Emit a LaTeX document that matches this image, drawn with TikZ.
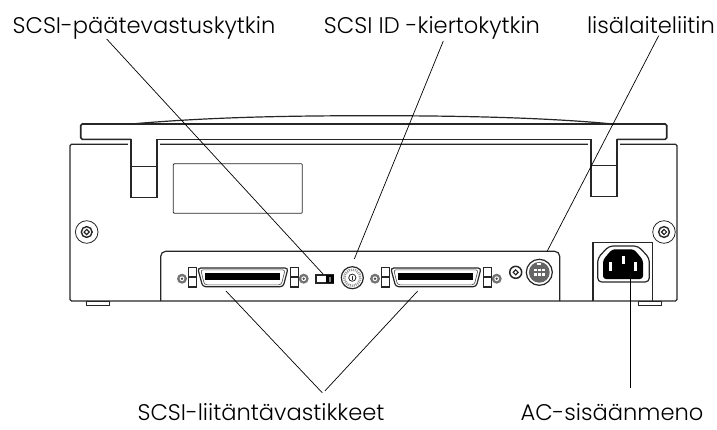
\documentclass[tikz,border=0pt]{standalone}
\usepackage{fontspec}
\setmainfont{Poppins Light}
\tikzset{
    outline/.style={line width=1.2pt,black!85},
    fine/.style={line width=0.8pt,black!85},
    leader/.style={line width=0.7pt,black},
    lbl/.style={inner sep=0pt,anchor=base,font=\fontsize{22.6}{26}\selectfont},
}
\begin{document}
\begin{tikzpicture}[x=1pt,y=-1pt]
    \useasboundingbox (0,0) rectangle (717,429);
    % feet
    \draw[fine] (86.3,301) rectangle (109.7,305);
    \draw[fine] (638.3,301) rectangle (661.7,305);
    % body and lid
    \draw[outline,rounded corners=1.5pt] (70,301) -- (70,144.3) -- (677,144.3) -- (677,301) -- cycle;
    \fill[white] (128,142) rectangle (160,150);
    \fill[white] (588,142) rectangle (620,150);
    \draw[line width=1.6pt,black!85,rounded corners=1.5pt] (131,124) -- (80.7,124) -- (80.7,139.3) -- (131,139.3);
    \draw[line width=1.6pt,black!85,rounded corners=1.5pt] (617,139.3) -- (666.7,139.3) -- (666.7,124) -- (613,124);
    \draw[outline] (131,124) -- (613,124);
    \draw[line width=1.6pt,black!85] (157,139.3) -- (591,139.3);
    \draw[outline] (131,124) .. controls (200,118) and (270,115.7) .. (372,115.7) .. controls (470,115.7) and (550,118) .. (613,124);
    % hinges
    \draw[outline] (131,139.3) -- (131,197.7) -- (157,197.7) -- (157,139.3);
    \draw[outline] (591,139.3) -- (591,196.7) -- (617,196.7) -- (617,139.3);
    \draw[fine] (131,166) -- (157,166);
    \draw[fine] (591,165) -- (617,165);
    % plate
    \draw[fine,rounded corners=1pt] (173.3,163.7) rectangle (302.3,213.3);
    % rear panel
    \draw[outline,rounded corners=5pt] (160.7,301) -- (160.7,251.3) -- (559.7,251.3) -- (559.7,301);
    % outer screws
    \foreach \sx in {86.7,664} {
        \draw[fine] (\sx,232) circle (11.3);
        \draw[line width=1.4pt,black!85] (\sx,232) circle (5.4);
        \draw[line width=1.2pt,black!85] (\sx-2.6,232) -- (\sx,229.4) -- (\sx+2.6,232) -- (\sx,234.6) -- cycle;
    }
    % scsi connectors
    \foreach \cx in {197.7,390.7} {
        \draw[outline,rounded corners=3pt] (\cx,268) -- (\cx+90.4,268) -- (\cx+85.5,286.7) -- (\cx+5,286.7) -- cycle;
        \draw[line width=0.6pt,black!70,rounded corners=2.5pt] (\cx+3,269.8) -- (\cx+87.4,269.8) -- (\cx+83.6,284.8) -- (\cx+6.8,284.8) -- cycle;
        \fill[black] (\cx+7.3,272.7) rectangle (\cx+82.5,280.3);
        % side brackets
        \draw[outline] (\cx-9.5,267.2) rectangle (\cx-1.5,287);
        \draw[outline] (\cx-9.5,277) -- (\cx-1.5,277);
        \draw[outline] (\cx+92.5,267.2) rectangle (\cx+100.5,287);
        \draw[outline] (\cx+92.5,277) -- (\cx+100.5,277);
        % small screws
        \foreach \dx in {-15.7,106} {
            \fill[black!55] (\cx+\dx,278.7) circle (5);
            \fill[white] (\cx+\dx,278.7) circle (2.4);
            \fill[black!70] (\cx+\dx,278.7) circle (1.3);
        }
    }
    % switch
    \draw[outline] (316,275) rectangle (333.7,283);
    \fill[black] (326,275) rectangle (333.7,283);
    \fill[black!50] (329,276.5) rectangle (331,281.5);
    % rotary
    \draw[outline] (352.3,277.7) circle (11);
    \draw[line width=2.6pt,black!40,dash pattern=on 1pt off 1pt] (352.3,277.7) circle (8);
    \draw[fine] (352.3,277.7) circle (3.6);
    \draw[fine] (352.3,275.5) -- (352.3,280);
    % din screw
    \draw[line width=1.5pt,black!85] (515.7,272.3) circle (6);
    \draw[line width=1.1pt,black!85] (513.2,272.3) -- (515.7,269.8) -- (518.2,272.3) -- (515.7,274.8) -- cycle;
    % din
    \draw[outline,fill=white] (539.3,272.3) circle (13);
    \fill[black!60] (539.3,272.3) circle (10.4);
    \foreach \px in {535.3,539.3,543.3} {
        \foreach \py in {270,274.5} {
            \fill[white] (\px-1.2,\py-1.2) rectangle (\px+1.2,\py+1.2);
        }
    }
    \fill[white] (537.3,262.6) rectangle (541.3,265.2);
    % power inlet
    \draw[outline] (593,301) -- (593,242.7) -- (652.7,242.7) -- (652.7,301);
    \draw[outline,rounded corners=4pt] (597.7,282) -- (597.7,258) -- (609,246) -- (638,246) -- (649.3,258) -- (649.3,282) -- cycle;
    \fill[black,rounded corners=3pt] (603,279) -- (603,260) -- (612,249.3) -- (634,249.3) -- (643,260) -- (643,279) -- cycle;
    \fill[white] (609.2,262.3) rectangle (612.2,271);
    \fill[white] (621.8,256) rectangle (624.8,264.3);
    \fill[white] (634.2,262.3) rectangle (637.2,271);
    % labels
    \node[lbl] (lblterm) at (144,33) {SCSI-päätevastuskytkin};
    \node[lbl] (lblid) at (432,33) {SCSI ID -kiertokytkin};
    \node[lbl] (lblaux) at (651,33) {lisälaiteliitin};
    \node[lbl] (lblscsi) at (261,420) {SCSI-liitäntävastikkeet};
    \node[lbl] (lblac) at (612,420) {AC-sisäänmeno};
    % leaders
    \coordinate (termend) at (323,274);
    \coordinate (idend) at (354.3,259);
    \coordinate (auxend) at (547.3,251);
    \coordinate (scsileft) at (226,291);
    \coordinate (scsiright) at (417.7,291);
    \coordinate (acend) at (630.3,279);
    \draw[leader] ([xshift=-37.3pt]lblterm.south) -- (termend);
    \draw[leader] ([xshift=11.3pt,yshift=-2pt]lblid.south) -- (idend);
    \draw[leader] ([xshift=7.7pt,yshift=-2.3pt]lblaux.south) -- (auxend);
    \draw[leader] (scsileft) -- ([xshift=61.3pt,yshift=10pt]lblscsi.north);
    \draw[leader] (scsiright) -- ([xshift=64pt,yshift=12pt]lblscsi.north);
    \draw[leader] (acend) -- ([xshift=18.3pt,yshift=15pt]lblac.north);
\end{tikzpicture}
\end{document}
